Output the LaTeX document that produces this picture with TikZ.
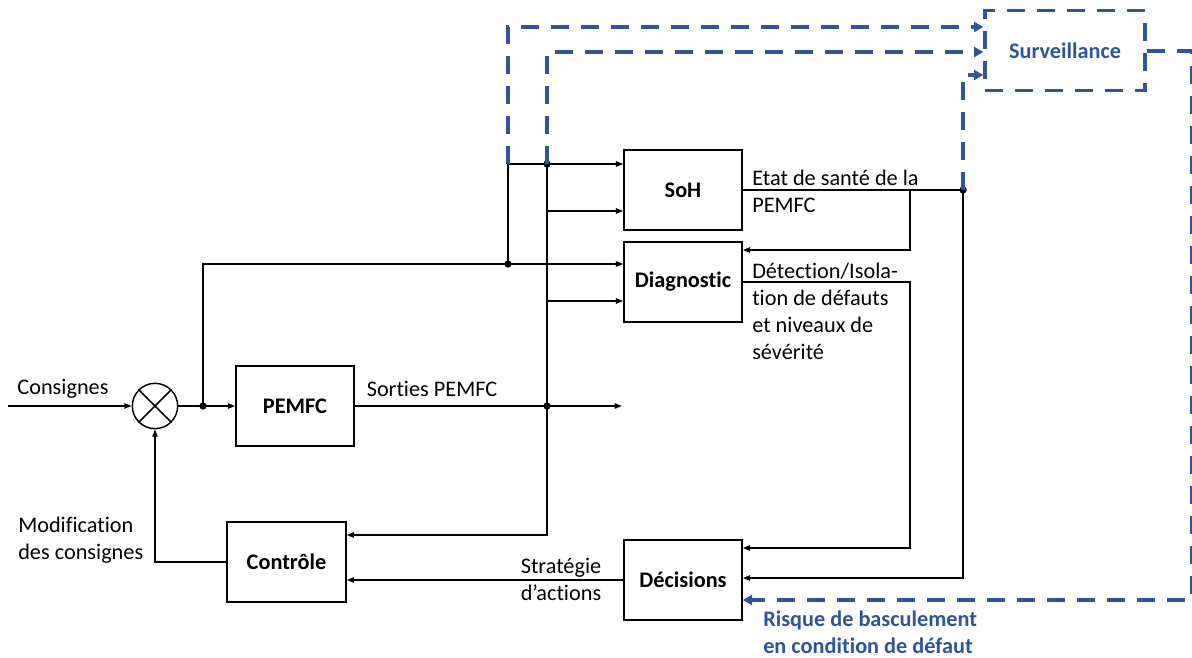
\documentclass[tikz,border=0pt]{standalone}
\usepackage{fontspec}
\setmainfont{Carlito}[Ligatures=NoCommon]
\usetikzlibrary{arrows.meta}
\definecolor{survblue}{HTML}{2F5597}
\begin{document}
\begin{tikzpicture}[x=0.75pt,y=-0.75pt,
  every node/.style={font=\fontsize{16.7}{20.25}\selectfont},
  blk/.style={draw, line width=1.1pt, minimum width=88.5pt, minimum height=60pt, inner sep=0pt, font=\fontsize{16.7}{20.25}\selectfont\bfseries},
  wire/.style={line width=1.1pt},
  arr/.style={wire, -{Triangle[length=5.5pt,width=4pt]}},
  bl/.style={survblue, line width=2.5pt, dash pattern=on 13.5pt off 9pt},
  blarr/.style={bl, -{Triangle[length=7pt,width=7.5pt]}},
  lbl/.style={inner sep=0pt},
  bllbl/.style={inner sep=0pt, text=survblue, font=\fontsize{16.7}{20.25}\selectfont\bfseries},
  dot/.style={circle, fill, inner sep=0pt, minimum size=5.5pt}
]
\useasboundingbox (0,0) rectangle (1192,657);

% blocks
\node[blk] (soh)  at (683,190) {SoH};
\node[blk] (diag) at (683,282) {Diagnostic};
\node[blk] (pemfc) at (295,406) {PEMFC};
\node[blk, minimum width=89.25pt] (ctrl) at (286.5,562) {Contrôle};
\node[blk] (dec) at (683,580) {Décisions};
\node[draw=survblue, line width=2.5pt, dash pattern=on 13.5pt off 9pt, minimum width=120pt, minimum height=60pt, bllbl] (surv) at (1065,50.5) {Surveillance};
\node[draw, circle, line width=1.1pt, minimum size=34pt, inner sep=0pt] (sum) at (155,406) {};
\draw[wire] (sum.north east) -- (sum.south west) (sum.north west) -- (sum.south east);

% junction coordinates
\coordinate (cin) at (8,406);
\coordinate (j1) at (203,406);
\coordinate (j2) at (508,264);
\coordinate (j3) at (508,164);
\coordinate (j4) at (547,164);
\coordinate (j5) at (547,406);
\coordinate (j6) at (963,190);
\coordinate (b1) at (547,211);
\coordinate (b2) at (547,301);
\coordinate (c1) at (547,535);
\coordinate (oend) at (622,406);
\coordinate (k1) at (910,190);
\coordinate (k2) at (910,250);
\coordinate (m1) at (910,282);
\coordinate (m2) at (910,548);
\coordinate (n1) at (963,578);
\coordinate (p1) at (508,27);
\coordinate (p2) at (547,52);
\coordinate (p3) at (963,75);
\coordinate (q1) at (1191.5,51);
\coordinate (q2) at (1191.5,600);

% black connectors
\draw[arr] (cin) -- (sum.west);
\draw[wire] (sum.east) -- (j1);
\draw[arr] (j1) -- (pemfc.west);
\draw[wire] (j1) |- (j2);
\draw[arr] (j2) -- (diag.west |- j2);
\draw[wire] (j2) -- (j3);
\draw[arr] (j3) -- (soh.west |- j3);
\draw[wire] (j4) -- (j5);
\draw[arr] (b1) -- (soh.west |- b1);
\draw[arr] (b2) -- (diag.west |- b2);
\draw[wire] (pemfc.east) -- (j5);
\draw[arr] (j5) -- (oend);
\draw[arr] (j5) -- (c1) -- (ctrl.east |- c1);
\draw[wire] (soh.east) -- (j6);
\draw[arr] (k1) -- (k2) -- (diag.east |- k2);
\draw[arr] (diag.east) -- (m1) -- (m2) -- (dec.east |- m2);
\draw[arr] (j6) -- (n1) -- (dec.east |- n1);
\draw[arr] (dec.west) -- (ctrl.east |- dec.west);
\draw[arr] (ctrl.west) -| (sum.south);

% dots
\foreach \p in {j1,j2,j4,j5,j6} \node[dot] at (\p) {};

% blue dashed connectors
\draw[blarr] (j3) -- (p1) -- (surv.west |- p1);
\draw[blarr] (j4) -- (p2) -- (surv.west |- p2);
\draw[blarr] (j6) -- (p3) -- (surv.west |- p3);
\draw[blarr] (surv.east |- q1) -- (q1) -- (q2) -- (dec.east |- q2);

% labels
\node[lbl] (tcons) at (63,389) {Consignes};
\node[lbl] (tsort) at (432,389) {Sorties PEMFC};
\node[lbl, anchor=west, align=left] (tetat) at (752,191) {Etat de santé de la\\PEMFC};
\node[lbl, anchor=west, align=left] (tdet) at (752,311) {Détection/Isola-\\tion de défauts\\et niveaux de\\sévérité};
\node[lbl, align=center] (tstrat) at (561,579) {Stratégie\\d’actions};
\node[lbl, anchor=west, align=left] (tmod) at (18,540) {Modification\\des consignes};
\node[bllbl, anchor=west, align=left] (trisk) at (763,632) {Risque de basculement\\en condition de défaut};
\end{tikzpicture}
\end{document}
